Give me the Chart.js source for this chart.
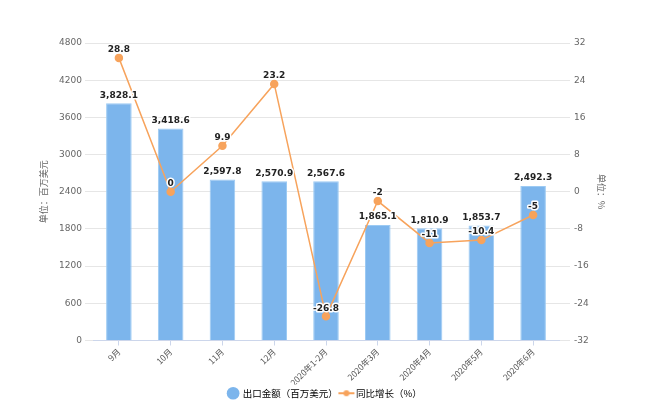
<!DOCTYPE html>
<html>
<head>
<meta charset="utf-8">
<script src="https://cdn.jsdelivr.net/npm/chart.js@4/dist/chart.umd.min.js"></script>
<style>
    html, body { margin: 0; padding: 0; background: #fff; }
    #wrap { width: 650px; height: 420px; }
</style>
</head>
<body>
<div id="wrap"><canvas id="mainChart"></canvas></div>
<script>
// ---------------- Data ----------------
const months = ["9月", "10月", "11月", "12月", "2020年1-2月", "2020年3月", "2020年4月", "2020年5月", "2020年6月"];
const exportValues = [3828.1, 3418.6, 2597.8, 2570.9, 2567.6, 1865.1, 1810.9, 1853.7, 2492.3];
const yoyGrowth = [28.8, 0, 9.9, 23.2, -26.8, -2, -11, -10.4, -5];

const leftAxis = { min: 0, max: 4800, step: 600 };
const rightAxis = { min: -32, max: 32, step: 8 };

const seriesNames = ["出口金额（百万美元）", "同比增长（%）"];
const leftTitle = "单位：百万美元";
const rightTitle = "单位：%";

const FONT = "'DejaVu Sans', 'Noto Sans CJK SC', sans-serif";
const CJK = "'Noto Sans CJK SC', sans-serif";
const BAR_COLOR = "#7cb5ec";
const LINE_COLOR = "#f7a35c";


// ---------------- Helpers ----------------
function fmtThousands(v) {
    return v.toLocaleString("en-US", { minimumFractionDigits: 1, maximumFractionDigits: 1 });
}

function drawLabel(ctx, text, x, y) {
    ctx.save();
    ctx.font = "bold 9px " + FONT;
    ctx.textAlign = "center";
    ctx.textBaseline = "middle";
    ctx.lineJoin = "round";
    ctx.lineWidth = 3;
    ctx.strokeStyle = "#fff";
    ctx.strokeText(text, x, y);
    ctx.fillStyle = "#222";
    ctx.fillText(text, x, y);
    ctx.restore();
}

// legend marker for the line series: short line with a dot
function lineMarker() {
    const c = document.createElement("canvas");
    c.width = 18; c.height = 10;
    const g = c.getContext("2d");
    g.strokeStyle = LINE_COLOR;
    g.lineWidth = 2;
    g.beginPath(); g.moveTo(1, 5); g.lineTo(17, 5); g.stroke();
    g.fillStyle = LINE_COLOR;
    g.beginPath(); g.arc(9, 5, 3, 0, Math.PI * 2); g.fill();
    return c;
}


// ---------------- Plugins ----------------
const valueLabels = {
    id: "valueLabels",
    afterDatasetsDraw(chart) {
        const ctx = chart.ctx;
        chart.getDatasetMeta(0).data.forEach((bar, i) => {
            drawLabel(ctx, fmtThousands(exportValues[i]), bar.x, bar.y - 8);
        });
        chart.getDatasetMeta(1).data.forEach((pt, i) => {
            drawLabel(ctx, String(yoyGrowth[i]), pt.x, pt.y - 8);
        });
    }
};

const axisTitles = {
    id: "axisTitles",
    afterDraw(chart) {
        const ctx = chart.ctx;
        const mid = (chart.chartArea.top + chart.chartArea.bottom) / 2;
        ctx.save();
        ctx.font = "9px " + CJK;
        ctx.fillStyle = "#666";
        ctx.textAlign = "center";
        ctx.textBaseline = "middle";

        ctx.save();
        ctx.translate(44, mid);
        ctx.rotate(-Math.PI / 2);
        ctx.fillText(leftTitle, 0, 0);
        ctx.restore();

        ctx.save();
        ctx.translate(601, mid);
        ctx.rotate(Math.PI / 2);
        ctx.fillText(rightTitle, 0, 0);
        ctx.restore();

        ctx.restore();
    }
};


// ---------------- Chart Init ----------------
const ctx = document.getElementById("mainChart").getContext("2d");

new Chart(ctx, {
    data: {
        labels: months,
        datasets: [
            {
                type: "bar",
                label: seriesNames[0],
                data: exportValues,
                backgroundColor: BAR_COLOR,
                borderColor: "#9ccaf3",
                borderWidth: 1,
                barPercentage: 0.95,
                categoryPercentage: 0.52,
                yAxisID: "y",
                order: 2
            },
            {
                type: "line",
                label: seriesNames[1],
                data: yoyGrowth,
                borderColor: LINE_COLOR,
                backgroundColor: LINE_COLOR,
                borderWidth: 1.5,
                pointRadius: 3.5,
                pointHoverRadius: 3.5,
                tension: 0,
                yAxisID: "y1",
                order: 1
            }
        ]
    },
    options: {
        responsive: true,
        maintainAspectRatio: false,
        animation: false,
        layout: { padding: { top: 43, left: 0, right: 0, bottom: 12 } },
        plugins: {
            tooltip: { enabled: false },
            legend: {
                position: "bottom",
                labels: {
                    usePointStyle: true,
                    boxHeight: 9,
                    padding: 4,
                    color: "#333",
                    font: { family: CJK, size: 9.5 },
                    generateLabels(chart) {
                        return [
                            { text: seriesNames[0], fillStyle: BAR_COLOR, strokeStyle: BAR_COLOR, lineWidth: 0, pointStyle: "circle", datasetIndex: 0 },
                            { text: seriesNames[1], pointStyle: lineMarker(), datasetIndex: 1 }
                        ];
                    }
                }
            }
        },
        scales: {
            x: {
                offset: true,
                afterFit(scale) { scale.height = 44; },
                grid: { display: true, offset: false, drawOnChartArea: false, tickLength: 5, color: "#ccd6eb" },
                border: { color: "#ccd6eb" },
                ticks: {
                    color: "#555",
                    font: { family: CJK, size: 8.5 },
                    autoSkip: false,
                    minRotation: 45,
                    maxRotation: 45,
                    padding: 1
                }
            },
            y: {
                position: "left",
                min: leftAxis.min,
                max: leftAxis.max,
                afterFit(scale) { scale.width = 93; },
                grid: { color: "#e6e6e6", tickLength: 8, tickColor: "#e6e6e6" },
                border: { display: false },
                ticks: {
                    stepSize: leftAxis.step,
                    color: "#666",
                    padding: 3,
                    font: { family: FONT, size: 9 },
                    callback: v => String(v)
                }
            },
            y1: {
                position: "right",
                min: rightAxis.min,
                max: rightAxis.max,
                afterFit(scale) { scale.width = 91; },
                grid: { drawOnChartArea: false, tickLength: 11, tickColor: "#e6e6e6", color: "#e6e6e6" },
                border: { display: false },
                ticks: {
                    stepSize: rightAxis.step,
                    color: "#666",
                    padding: 4,
                    font: { family: FONT, size: 9 }
                }
            }
        }
    },
    plugins: [valueLabels, axisTitles]
});
</script>
</body>
</html>
